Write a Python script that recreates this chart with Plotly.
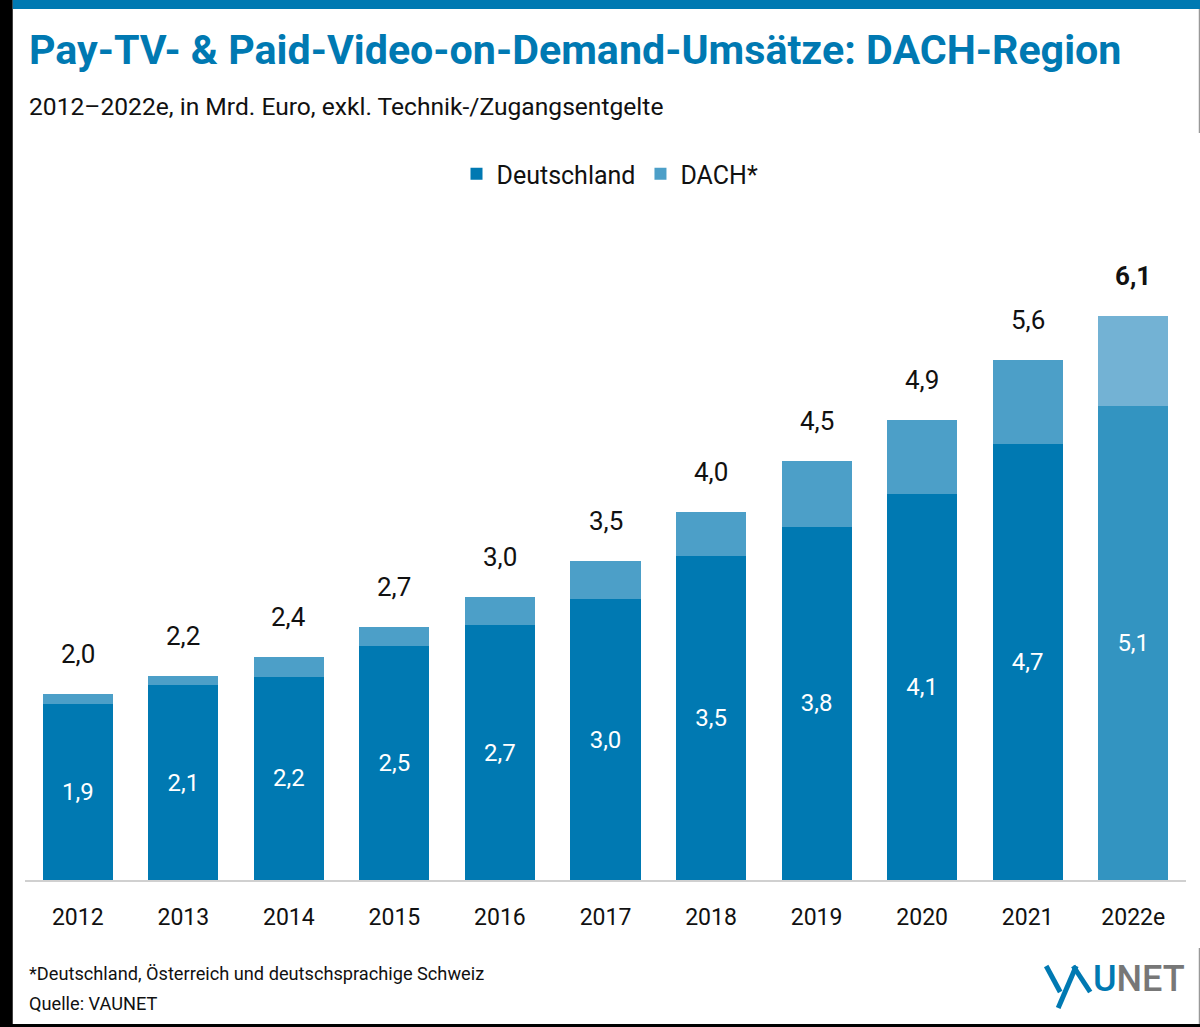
import plotly.graph_objects as go

years = ["2012","2013","2014","2015","2016","2017","2018","2019","2020","2021","2022e"]
deutschland = [1.90,2.10,2.19,2.52,2.75,3.03,3.50,3.81,4.16,4.70,5.11]
gesamt = [2.01,2.20,2.41,2.73,3.05,3.44,3.97,4.52,4.96,5.61,6.08]
labels_d = ["1,9","2,1","2,2","2,5","2,7","3,0","3,5","3,8","4,1","4,7","5,1"]
labels_t = ["2,0","2,2","2,4","2,7","3,0","3,5","4,0","4,5","4,9","5,6","<b>6,1</b>"]
dach = [round(t-d,2) for t,d in zip(gesamt,deutschland)]

W,H=1200,1027
L,R,T,B=25.25,1185.75,220,880
FONT="Roboto"
def px(x): return (x-L)/(R-L)
def py(y): return (B-y)/(B-T)

BLUE="#0079b2"; LIGHT="#4c9fc8"; BLUE_E="#3394c1"; LIGHT_E="#73b2d4"

fig=go.Figure()
fig.add_bar(name="Deutschland",x=years,y=deutschland,text=labels_d,textposition="inside",insidetextanchor="middle",
    textangle=0,textfont=dict(color="white",size=24,family=FONT),
    marker=dict(color=[BLUE]*10+[BLUE_E],line_width=0),hoverinfo="skip")
fig.add_bar(name="DACH*",x=years,y=dach,textposition="none",
    marker=dict(color=[LIGHT]*10+[LIGHT_E],line_width=0),hoverinfo="skip")
for i,(t,lab) in enumerate(zip(gesamt,labels_t)):
    fig.add_annotation(x=i,y=t,text=lab,showarrow=False,yshift=40,xanchor="center",yanchor="middle",
        font=dict(size=26,color="#111111",family=FONT))

def txt(x,y,s,size,color="#111111",anchor="left",weight="normal"):
    fig.add_annotation(xref="paper",yref="paper",x=px(x),y=py(y),text=s,showarrow=False,xanchor=anchor,yanchor="middle",
        font=dict(size=size,color=color,family=FONT,weight=weight),borderpad=0,align="left")

txt(28,50,"<b>Pay-TV- &amp; Paid-Video-on-Demand-Umsätze: DACH-Region</b>",41.2,BLUE)
txt(28,106,"2012–2022e, in Mrd. Euro, exkl. Technik-/Zugangsentgelte",24.6)
txt(28,973,"*Deutschland, Österreich und deutschsprachige Schweiz",18.2)
txt(28,1003,"Quelle: VAUNET",18.2)
txt(1186,979,"<span style='color:#0079b2'>U</span><span style='color:#777777'>NET</span>",36,"#777777","right",500)

shapes=[
 dict(x0=0,x1=13,y0=0,y1=1027,color="black"),
 dict(x0=13,x1=1200,y0=0,y1=9,color=BLUE),
 dict(x0=0,x1=1200,y0=1024,y1=1027,color="black"),
 dict(x0=1198.5,x1=1200,y0=9,y1=133,color="#999999"),
 dict(x0=1198.5,x1=1200,y0=948,y1=1024,color="#999999"),
]
sh=[dict(type="rect",xref="paper",yref="paper",x0=px(s["x0"]),x1=px(s["x1"]),y0=py(s["y0"]),y1=py(s["y1"]),
    fillcolor=s["color"],line_width=0,layer="above") for s in shapes]
for (a,b,c,d) in [(1046,966,1060,992),(1076,966,1058,1008),(1073,966,1090,992)]:
    sh.append(dict(type="line",xref="paper",yref="paper",x0=px(a),y0=py(b),x1=px(c),y1=py(d),line=dict(color=BLUE,width=5)))
fig.update_layout(shapes=sh)

fig.update_layout(width=W,height=H,autosize=False,barmode="stack",bargap=0.336,
    margin=dict(l=L,r=W-R,t=T,b=H-B,pad=0),paper_bgcolor="white",plot_bgcolor="white",
    font=dict(family=FONT,color="#111111"),
    legend=dict(orientation="h",xanchor="center",x=px(610),yanchor="middle",y=py(174),
        font=dict(size=25,family=FONT),itemsizing="constant",traceorder="normal",bgcolor="rgba(0,0,0,0)"),
    xaxis=dict(type="category",range=[-0.5,10.5],showgrid=False,showline=True,linecolor="#d0d0d0",linewidth=1.5,ticks="",
        tickfont=dict(size=23,color="#111111",family=FONT),ticklen=0,ticklabelstandoff=16,automargin=False),
    yaxis=dict(range=[0,(B-T)/92.7],visible=False,automargin=False))
fig.write_html("out.html",config={"displayModeBar":False},post_script="document.body.style.margin='0';")
